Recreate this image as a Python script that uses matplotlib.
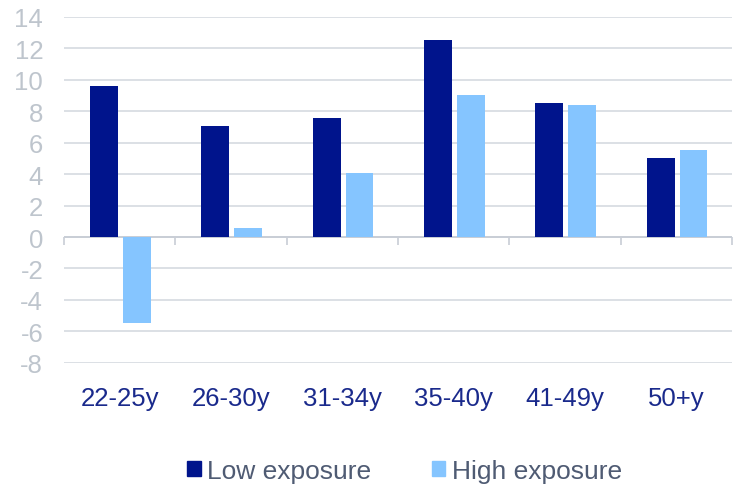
import numpy as np
import matplotlib.pyplot as plt
from matplotlib.patches import Patch

plt.rcParams['font.family'] = ['Liberation Sans', 'DejaVu Sans']
plt.rcParams['axes.unicode_minus'] = False

# data
age_groups = ['22-25y', '26-30y', '31-34y', '35-40y', '41-49y', '50+y']
low_exposure = [9.6, 7.05, 7.55, 12.55, 8.55, 5.05]
high_exposure = [-5.5, 0.6, 4.1, 9.05, 8.4, 5.55]
y_ticks = [-8, -6, -4, -2, 0, 2, 4, 6, 8, 10, 12, 14]

dark = '#00148C'
light = '#85C5FF'
grid_col = '#D9DDE3'

fig = plt.figure(figsize=(7.33, 4.85), dpi=100)
ax = fig.add_axes([0.0873, 0.25, 0.9113, 0.713])

x = np.arange(len(age_groups))
w = 0.25
ax.bar(x - 0.14, low_exposure, w, color=dark, zorder=3)
ax.bar(x + 0.155, high_exposure, w, color=light, zorder=3)

ax.set_xlim(-0.5, len(age_groups) - 0.5)
ax.set_ylim(-8, 14)
ax.set_yticks(y_ticks)
ax.grid(axis='y', color=grid_col, linewidth=1.3, zorder=0)
ax.set_axisbelow(True)
for s in ax.spines.values():
    s.set_visible(False)

ax.tick_params(axis='y', length=0, pad=15, labelsize=18.5, labelcolor='#BEC5CD')
ax.set_xticks(x)
ax.set_xticklabels(age_groups)
ax.tick_params(axis='x', length=0, pad=17, labelsize=18.5, labelcolor='#1A2A8C')

# category axis drawn at zero with tick marks between groups
ax.axhline(0, color='#C8CDD5', linewidth=1.3, zorder=2)
sec = ax.secondary_xaxis(8 / 22)
sec.spines['bottom'].set_visible(False)
sec.set_xticks(np.arange(len(age_groups) + 1) - 0.5)
sec.tick_params(axis='x', direction='out', length=6, width=1.2, color='#C8CDD5',
                labelbottom=False)

handles = [Patch(color=dark, label='Low exposure'), Patch(color=light, label='High exposure')]
fig.legend(handles=handles, loc='lower center', bbox_to_anchor=(0.552, -0.047), ncol=2,
           frameon=False, fontsize=19, handlelength=0.5, handleheight=0.5,
           handletextpad=0.25, columnspacing=2.3, labelcolor='#4F5B73')

fig.savefig('out.png', dpi=100)
